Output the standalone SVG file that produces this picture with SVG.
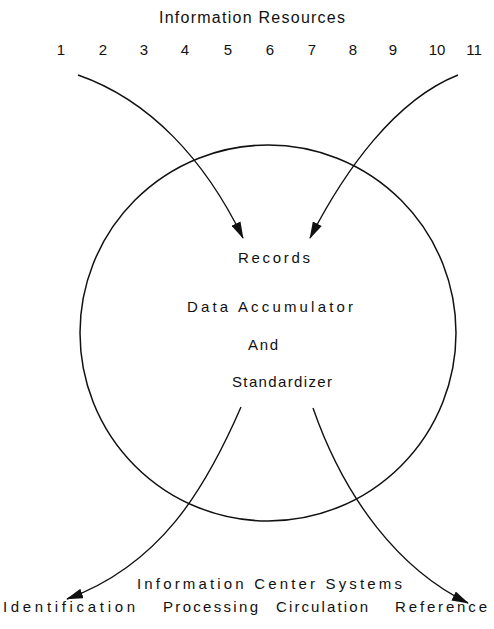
<svg xmlns="http://www.w3.org/2000/svg" width="494" height="629" viewBox="0 0 494 629">
  <style>
    text { font-family: "Liberation Sans", "DejaVu Sans", sans-serif; fill: #111; }
    .title { font-size: 16px; }
    .num { font-size: 15px; text-anchor: middle; }
    .lbl { font-size: 15px; }
    .edge { fill: none; stroke: #111; stroke-width: 1.4; }
  </style>
  <defs>
    <marker id="arrow" viewBox="0 0 17 10" refX="16" refY="5" markerWidth="17" markerHeight="10" markerUnits="userSpaceOnUse" orient="auto">
      <path d="M0,0 L17,5 L0,10 Z" fill="#111"/>
    </marker>
  </defs>
  <rect width="494" height="629" fill="#fff"/>

  <g id="resources">
    <text class="title" x="159" y="23" textLength="186" lengthAdjust="spacing">Information Resources</text>
    <text class="num" x="61" y="55">1</text>
    <text class="num" x="103" y="55">2</text>
    <text class="num" x="144" y="55">3</text>
    <text class="num" x="185" y="55">4</text>
    <text class="num" x="228" y="55">5</text>
    <text class="num" x="270" y="55">6</text>
    <text class="num" x="312" y="55">7</text>
    <text class="num" x="353" y="55">8</text>
    <text class="num" x="393" y="55">9</text>
    <text class="num" x="437" y="55">10</text>
    <text class="num" x="474" y="55">11</text>
  </g>

  <g id="accumulator">
    <circle cx="268" cy="333" r="188" fill="none" stroke="#111" stroke-width="1.5"/>
    <text class="lbl" x="238" y="263" textLength="72" lengthAdjust="spacing">Records</text>
    <text class="lbl" x="187" y="312" textLength="166" lengthAdjust="spacing">Data Accumulator</text>
    <text class="lbl" x="248" y="350" textLength="30" lengthAdjust="spacing">And</text>
    <text class="lbl" x="232" y="387" textLength="100" lengthAdjust="spacing">Standardizer</text>
  </g>

  <g id="systems">
    <text class="lbl" x="137" y="589" textLength="265" lengthAdjust="spacing">Information Center Systems</text>
    <text class="lbl" x="3" y="612" textLength="132" lengthAdjust="spacing">Identification</text>
    <text class="lbl" x="163" y="612" textLength="95" lengthAdjust="spacing">Processing</text>
    <text class="lbl" x="276" y="612" textLength="92" lengthAdjust="spacing">Circulation</text>
    <text class="lbl" x="395" y="612" textLength="92" lengthAdjust="spacing">Reference</text>
  </g>

  <g id="connectors">
    <path class="edge" d="M78,75 C150,100 205,160 243,238" marker-end="url(#arrow)"/>
    <path class="edge" d="M458,75 C395,100 345,170 310,238" marker-end="url(#arrow)"/>
    <path class="edge" d="M241,407 C205,490 160,565 67,599" marker-end="url(#arrow)"/>
    <path class="edge" d="M313,408 C345,500 400,570 468,603" marker-end="url(#arrow)"/>
  </g>
</svg>
